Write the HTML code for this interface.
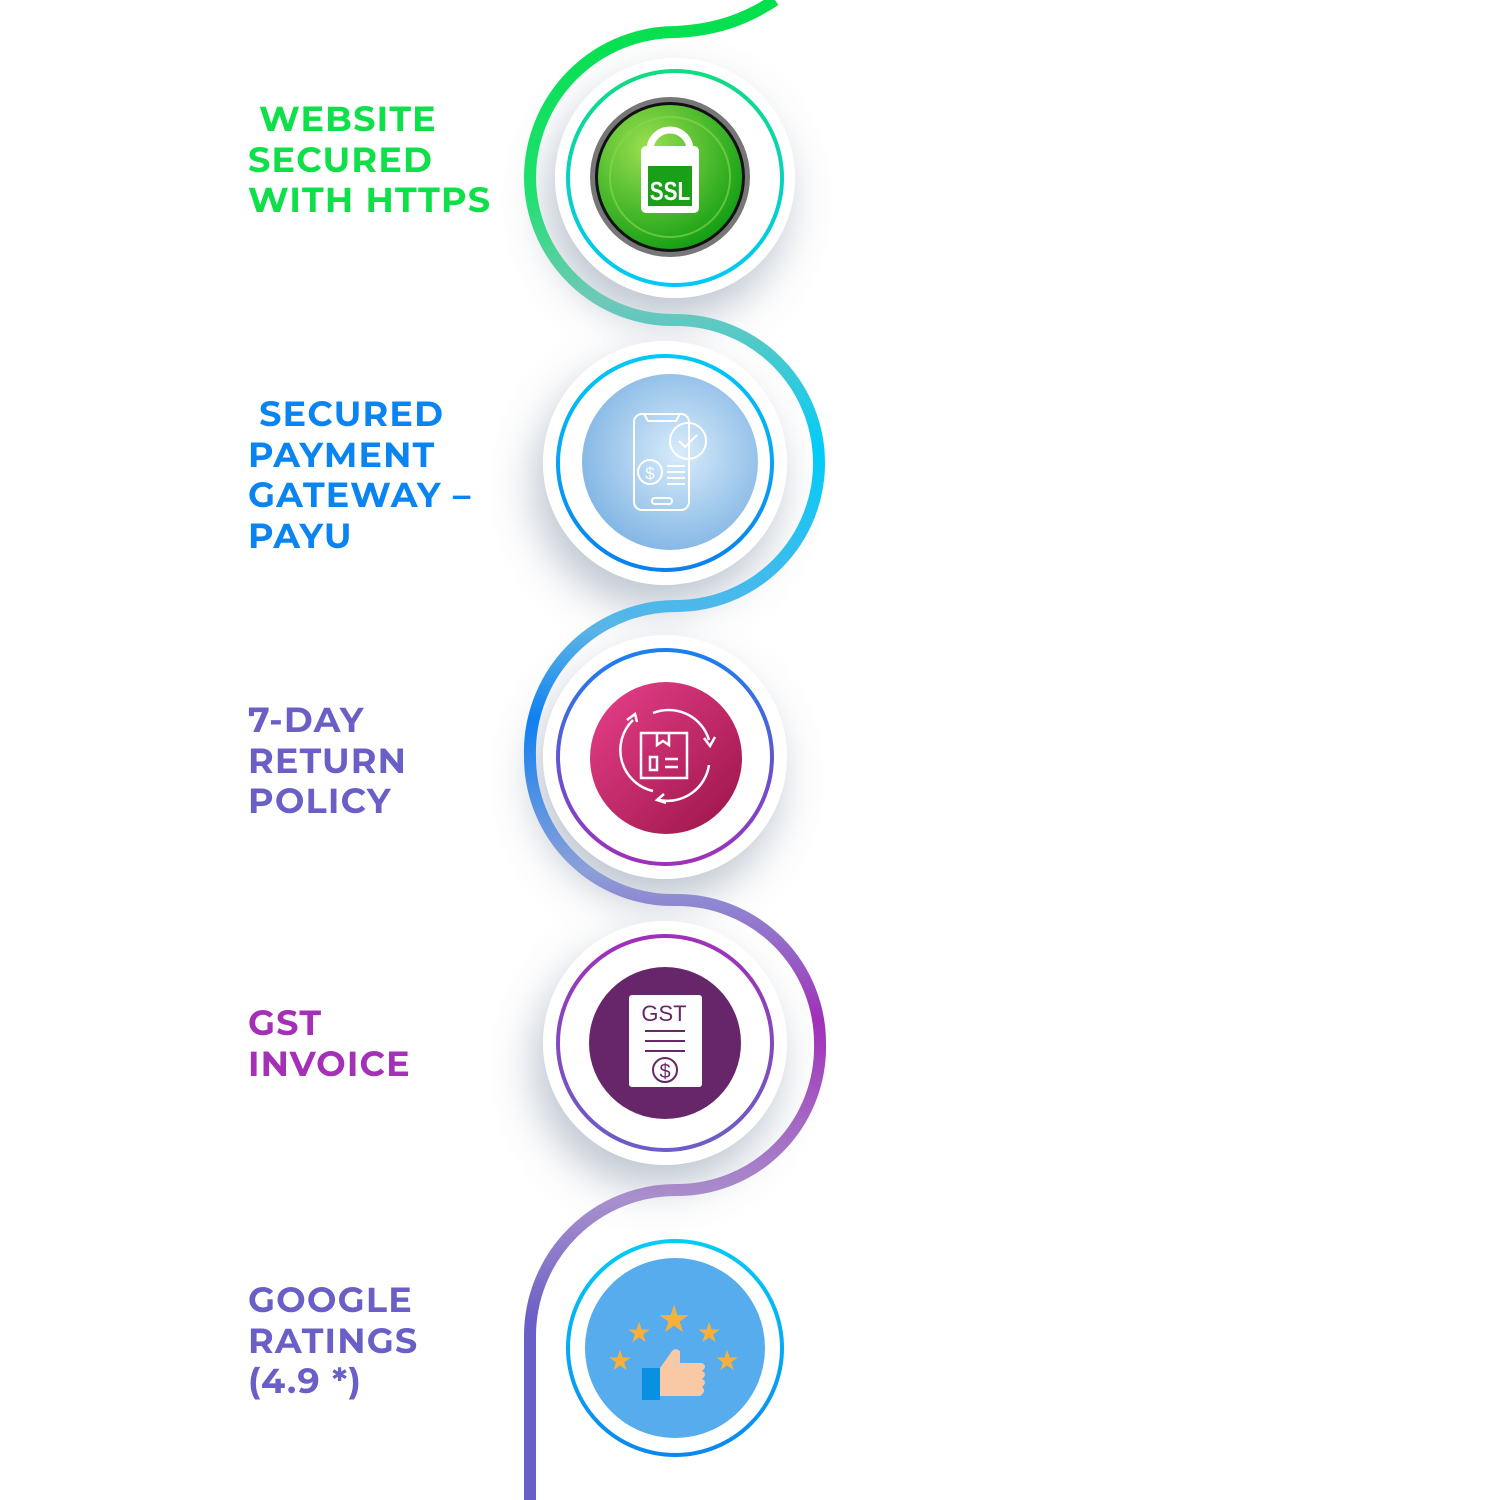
<!DOCTYPE html>
<html><head><meta charset="utf-8"><style>
html,body{margin:0;padding:0;background:#fff;width:1500px;height:1500px;overflow:hidden}
.t{position:absolute;left:248px;font-family:"Montserrat","Liberation Sans",sans-serif;font-weight:bold;font-size:35px;line-height:40.5px;letter-spacing:1.2px}
</style></head><body>
<svg width="1500" height="1500" style="position:absolute;left:0;top:0">
<defs>
<linearGradient id="pg" gradientUnits="userSpaceOnUse" x1="0" y1="0" x2="0" y2="1500">
<stop offset="0" stop-color="#00e04a"/>
<stop offset="0.13" stop-color="#20e070"/>
<stop offset="0.2" stop-color="#70c8b8"/>
<stop offset="0.3" stop-color="#00ccf8"/>
<stop offset="0.42" stop-color="#5ab4e8"/>
<stop offset="0.48" stop-color="#1080f0"/>
<stop offset="0.58" stop-color="#8aa0d8"/>
<stop offset="0.68" stop-color="#a030b8"/>
<stop offset="0.8" stop-color="#a890cc"/>
<stop offset="0.88" stop-color="#6a5fc6"/>
<stop offset="1" stop-color="#6a5fc6"/>
</linearGradient>
<filter id="sh" x="-50%" y="-50%" width="200%" height="200%"><feDropShadow dx="-8" dy="22" stdDeviation="22" flood-color="#6b7f95" flood-opacity="0.45"/></filter>
<linearGradient id="r1" x1="0" y1="0" x2="0" y2="1"><stop offset="0" stop-color="#10dc80"/><stop offset="1" stop-color="#00c8f8"/></linearGradient>
<linearGradient id="r2" x1="0" y1="0" x2="0" y2="1"><stop offset="0" stop-color="#00c8f8"/><stop offset="1" stop-color="#0a80f0"/></linearGradient>
<linearGradient id="r3" x1="0" y1="0" x2="0" y2="1"><stop offset="0" stop-color="#1a80f0"/><stop offset="1" stop-color="#a030b8"/></linearGradient>
<linearGradient id="r4" x1="0" y1="0" x2="0" y2="1"><stop offset="0" stop-color="#a030b8"/><stop offset="1" stop-color="#6a5fc6"/></linearGradient>
<linearGradient id="r5" x1="0" y1="0" x2="0" y2="1"><stop offset="0" stop-color="#00ccf8"/><stop offset="1" stop-color="#0a88f0"/></linearGradient>
<radialGradient id="g1" cx="0.35" cy="0.3" r="0.8"><stop offset="0" stop-color="#9be050"/><stop offset="1" stop-color="#0a9a10"/></radialGradient>
<radialGradient id="g2" cx="0.55" cy="0.45" r="0.6"><stop offset="0" stop-color="#d8ecfa"/><stop offset="1" stop-color="#80b4e4"/></radialGradient>
<linearGradient id="g3" x1="0" y1="0" x2="1" y2="1"><stop offset="0" stop-color="#e8408a"/><stop offset="1" stop-color="#9a1448"/></linearGradient>
</defs>
<g filter="url(#sh)" fill="#fff">
<circle cx="675" cy="178" r="120"/>
<circle cx="665" cy="463" r="122"/>
<circle cx="665" cy="757" r="122"/>
<circle cx="665" cy="1043" r="122"/>
</g>
<path d="M775,0 C745,20 715,30 676,32 A146,146 0 0 0 530,178 A143,143 0 0 0 676,320 A143,143 0 0 1 819,463 A143,143 0 0 1 676,606 A146,146 0 0 0 530,757 A143,143 0 0 0 676,900 A143,143 0 0 1 820,1043 A143,143 0 0 1 676,1190 A146,146 0 0 0 530,1336 L530,1500" fill="none" stroke="url(#pg)" stroke-width="12"/>
<g fill="#fff">
<circle cx="675" cy="178" r="112"/>
<circle cx="665" cy="463" r="114"/>
<circle cx="665" cy="757" r="114"/>
<circle cx="665" cy="1043" r="114"/>
<circle cx="675" cy="1348" r="112"/>
</g>
<g fill="none" stroke-width="4">
<circle cx="675" cy="178" r="107" stroke="url(#r1)"/>
<circle cx="665" cy="463" r="107" stroke="url(#r2)"/>
<circle cx="665" cy="757" r="107" stroke="url(#r3)"/>
<circle cx="665" cy="1043" r="107" stroke="url(#r4)"/>
<circle cx="675" cy="1348" r="107" stroke="url(#r5)"/>
</g>
<circle cx="670" cy="177" r="80" fill="#777"/>
<circle cx="670" cy="177" r="75" fill="#111"/>
<circle cx="670" cy="177" r="72" fill="url(#g1)"/>
<circle cx="670" cy="177" r="60" fill="none" stroke="#8cd84c" stroke-width="2" opacity="0.6"/>
<path d="M650,150 a20,20 0 0 1 40,0 v16" fill="none" stroke="#fff" stroke-width="7"/>
<rect x="641" y="146" width="58" height="67" rx="5" fill="#fff"/>
<rect x="648" y="166" width="44" height="40" fill="#1aa018"/>
<text x="670" y="200" text-anchor="middle" font-family="Liberation Sans Narrow,Liberation Sans,sans-serif" font-weight="bold" font-size="26" fill="#fff" transform="translate(670 0) scale(0.8 1) translate(-670 0)">SSL</text>
<circle cx="670" cy="462" r="88" fill="url(#g2)"/>
<g fill="none" stroke="#fff" stroke-width="2">
<rect x="634" y="414" width="55" height="96" rx="8"/>
<path d="M644,414 l4,7 h28 l4,-7"/>
<rect x="652" y="498" width="20" height="6" rx="3"/>
<circle cx="688" cy="441" r="18"/>
<path d="M679,441 l6,6 l12,-12"/>
<circle cx="650" cy="472" r="12"/>
<path d="M667,466 h18 M667,472 h18 M667,478 h18 M667,484 h18"/>
</g>
<text x="650" y="479" text-anchor="middle" font-family="Liberation Sans,sans-serif" font-size="17" fill="#fff">$</text>
<circle cx="666" cy="758" r="76" fill="url(#g3)"/>
<g fill="none" stroke="#fff" stroke-width="2.5">
<rect x="641" y="733" width="46" height="45"/>
<path d="M657,733 v12 l6,-4 l6,4 v-12"/>
<rect x="650" y="757" width="7" height="13"/>
<path d="M665,759 h13 M665,767 h13"/>
<path d="M653,791 A42,42 0 0 1 633,720"/>
<path d="M653,713 A42,42 0 0 1 709,740"/>
<path d="M709,765 A42,42 0 0 1 659,800"/>
<path d="M627,720 l8,-6 l2,8"/>
<path d="M704,738 l6,8 l5,-9"/>
<path d="M664,794 l-7,6 l9,3"/>
</g>
<circle cx="665" cy="1043" r="76" fill="#68266a"/>
<rect x="629" y="995" width="73" height="92" rx="3" fill="#fff"/>
<text x="664" y="1021" text-anchor="middle" font-family="Liberation Sans,sans-serif" font-size="22" fill="#68266a">GST</text>
<path d="M645,1031 h40 M645,1041 h40 M645,1051 h40" stroke="#68266a" stroke-width="2"/>
<circle cx="665" cy="1070" r="12" fill="none" stroke="#68266a" stroke-width="2"/>
<text x="665" y="1078" text-anchor="middle" font-family="Liberation Sans,sans-serif" font-size="20" fill="#68266a">$</text>
<circle cx="675" cy="1348" r="90" fill="#56acec"/>
<g fill="#f8b03c" font-family="DejaVu Sans,sans-serif" text-anchor="middle">
<text x="674" y="1332" font-size="38">★</text>
<text x="639" y="1342" font-size="28">★</text>
<text x="709" y="1342" font-size="28">★</text>
<text x="620" y="1370" font-size="28">★</text>
<text x="727" y="1370" font-size="28">★</text>
</g>
<rect x="642" y="1368" width="18" height="32" fill="#0a90e0"/>
<path d="M660,1368 l10,-14 q4,-8 10,-3 v12 h22 q6,3 0,8 q6,3 0,8 q6,3 0,8 q5,4 -2,9 h-40 z" fill="#f9c8a4"/>
</svg>
<div class="t" style="top:99px;color:#0ee04a">&nbsp;WEBSITE<br>SECURED<br>WITH HTTPS</div>
<div class="t" style="top:394px;color:#0a84f0">&nbsp;SECURED<br>PAYMENT<br>GATEWAY –<br>PAYU</div>
<div class="t" style="top:700px;color:#6a5fc6">7-DAY<br>RETURN<br>POLICY</div>
<div class="t" style="top:1003px;color:#a430b8">GST<br>INVOICE</div>
<div class="t" style="top:1280px;color:#6a5fc6">GOOGLE<br>RATINGS<br>(4.9 *)</div>
</body></html>
